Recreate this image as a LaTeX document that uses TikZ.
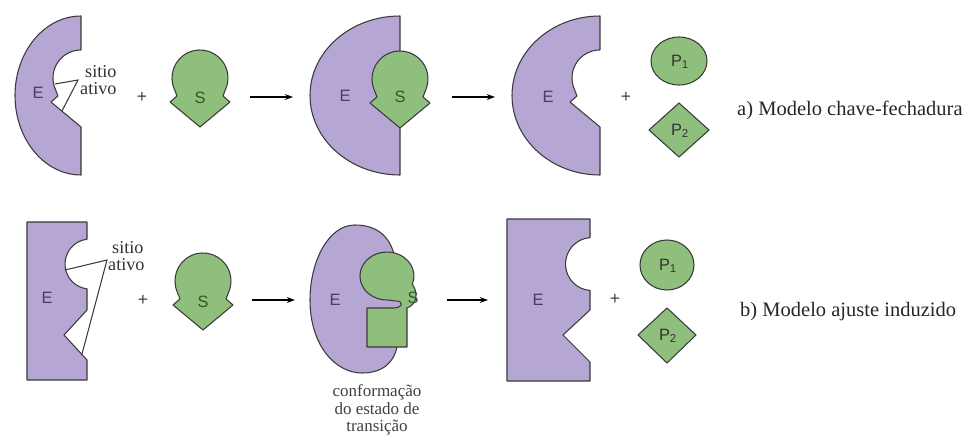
\documentclass[tikz,border=0pt]{standalone}
\usepackage{fontspec}
\setmainfont{Liberation Serif}
\setsansfont{Liberation Sans}
\usetikzlibrary{arrows.meta}

\definecolor{enz}{HTML}{B5A6D4}
\definecolor{sub}{HTML}{8FBF7C}
\definecolor{edgecol}{HTML}{3A3A3A}
\definecolor{etext}{HTML}{4A3A6C}
\definecolor{stext}{HTML}{2D5A28}

\tikzset{
  enzyme/.style={fill=enz, draw=edgecol, line width=0.9pt, line join=round},
  ligand/.style={fill=sub, draw=edgecol, line width=0.9pt, line join=round},
  elabel/.style={font=\sffamily\fontsize{14}{14}\selectfont, text=etext, inner sep=0pt},
  slabel/.style={font=\sffamily\fontsize{14}{14}\selectfont, text=stext, inner sep=0pt},
  plabel/.style={font=\sffamily\fontsize{14}{14}\selectfont, text=black!80, inner sep=0pt},
  plus/.style={font=\sffamily\fontsize{15}{15}\selectfont, text=black!75, inner sep=0pt},
  note/.style={font=\fontsize{15.5}{16}\selectfont, text=black!80, inner sep=0pt, anchor=west},
  caption/.style={font=\fontsize{14.5}{15}\selectfont, text=black!75, inner sep=0pt, align=center},
  model/.style={font=\fontsize{17.5}{18}\selectfont, text=black!85, anchor=west, inner sep=0pt},
  react/.style={-{Stealth[length=7pt,width=5pt]}, line width=0.9pt, black},
  pointer/.style={draw=edgecol, line width=0.9pt, line join=miter},
}

% lock-and-key substrate: round head over a pointed base
\newcommand{\substrateshape}[1]{%
  \begin{scope}[shift={#1}]
    \path[ligand] (-30,24) -- (-23,18) -- (-25.4,11.8)
      arc[start angle=155, end angle=385, radius=28]
      -- (23,18) -- (30,24) -- (0,49) -- cycle;
  \end{scope}}

\begin{document}
\begin{tikzpicture}[x=0.03cm, y=-0.03cm]
\useasboundingbox (0,0) rectangle (973,446);

% ---------------- a) lock and key ----------------
% free enzyme with its active site
\path[enzyme] (81,16) arc[start angle=270, end angle=90, x radius=66, y radius=79.5]
  -- (81,127) -- (51,102) -- (58,96) -- (55.6,89.8)
  arc[start angle=155, end angle=270, radius=28] -- cycle;
\node[elabel] (e1) at (38,93) {E};
\coordinate (s1a) at (55,84);
\coordinate (s1k) at (78,80);
\coordinate (s1b) at (62,111);
\draw[pointer] (s1a) -- (s1k) -- (s1b);
\node[note] (sit1) at (85,72) {sitio};
\node[note] (atv1) at (80,89) {ativo};

\node[plus] (plus1) at (142,97) {+};

% free substrate
\substrateshape{(200,78)}
\node[slabel] (sub1) at (200,98) {S};

\coordinate (r1a) at (250,97);
\coordinate (r1b) at (293,97);
\draw[react] (r1a) -- (r1b);

% enzyme-substrate complex
\path[enzyme] (400,16) arc[start angle=270, end angle=90, x radius=90, y radius=79.5] -- cycle;
\substrateshape{(400,79)}
\node[elabel] (e2) at (345,96) {E};
\node[slabel] (sub2) at (400,97) {S};

\coordinate (r2a) at (452,97);
\coordinate (r2b) at (495,97);
\draw[react] (r2a) -- (r2b);

% released enzyme
\path[enzyme] (600,16) arc[start angle=270, end angle=90, x radius=88, y radius=79.5]
  -- (600,127) -- (570,102) -- (577,96) -- (574.6,89.8)
  arc[start angle=155, end angle=270, radius=28] -- cycle;
\node[elabel] (e3) at (548,97) {E};

\node[plus] (plus2) at (626,97) {+};

% products
\path[ligand] (679,61) ellipse[x radius=28, y radius=24];
\node[plabel] (pa1) at (680,62) {P\textsubscript{1}};
\path[ligand] (679,103) -- (709,130) -- (679,157) -- (649,130) -- cycle;
\node[plabel] (pa2) at (680,131) {P\textsubscript{2}};

\node[model] (lbla) at (737,110) {a) Modelo chave-fechadura};

% ---------------- b) induced fit ----------------
% free enzyme with its active site
\path[enzyme] (27,222) -- (87,222) -- (87,239.2)
  arc[start angle=263.1, end angle=96.9, radius=25]
  -- (87,310) -- (64,335) -- (87,360) -- (87,380) -- (27,380) -- cycle;
\node[elabel] (e4) at (47,298) {E};
\coordinate (s2a) at (65,270);
\coordinate (s2k) at (107,260);
\coordinate (s2b) at (82,354);
\draw[pointer] (s2a) -- (s2k) -- (s2b);
\node[note] (sit2) at (112,248) {sitio};
\node[note] (atv2) at (108,265) {ativo};

\node[plus] (plus3) at (143,300) {+};

\substrateshape{(203,281)}
\node[slabel] (sub3) at (203,302) {S};

\coordinate (r3a) at (252,300);
\coordinate (r3b) at (295,300);
\draw[react] (r3a) -- (r3b);

% transition-state conformation
\path[enzyme] (394,254) .. controls (388,232) and (372,225) .. (355,225)
  .. controls (328,225) and (310,262) .. (310,300)
  .. controls (310,345) and (335,373) .. (362,373)
  .. controls (383,373) and (394,362) .. (397,347)
  -- (404,320) -- (405,290) -- cycle;
\path[ligand] (387.9,300) arc[start angle=88, end angle=380, x radius=27, y radius=24]
  .. controls (418,292) and (418,304) .. (407,308)
  -- (407,347) -- (367,347) -- (367,308) -- (393,308)
  .. controls (403,308) and (404,301) .. (396,301) -- cycle;
\node[elabel] (e5) at (335,300) {E};
\node[slabel] (sub4) at (413,298) {S};
\node[caption] (cap) at (377,410) {conformação\\do estado de\\transição};

\coordinate (r4a) at (447,300);
\coordinate (r4b) at (488,300);
\draw[react] (r4a) -- (r4b);

% released enzyme
\path[enzyme] (507,219) -- (590,219) -- (590,237.6)
  arc[start angle=265.7, end angle=94.3, radius=26.5]
  -- (590,310) -- (563,335) -- (590,362) -- (590,381) -- (507,381) -- cycle;
\node[elabel] (e6) at (538,300) {E};

\node[plus] (plus4) at (615,299) {+};

% products
\path[ligand] (667,265) ellipse[x radius=27, y radius=25];
\node[plabel] (pb1) at (668,266) {P\textsubscript{1}};
\path[ligand] (667,308) -- (696,335) -- (667,363) -- (638,335) -- cycle;
\node[plabel] (pb2) at (668,336) {P\textsubscript{2}};

\node[model] (lblb) at (740,312) {b) Modelo ajuste induzido};
\end{tikzpicture}
\end{document}
